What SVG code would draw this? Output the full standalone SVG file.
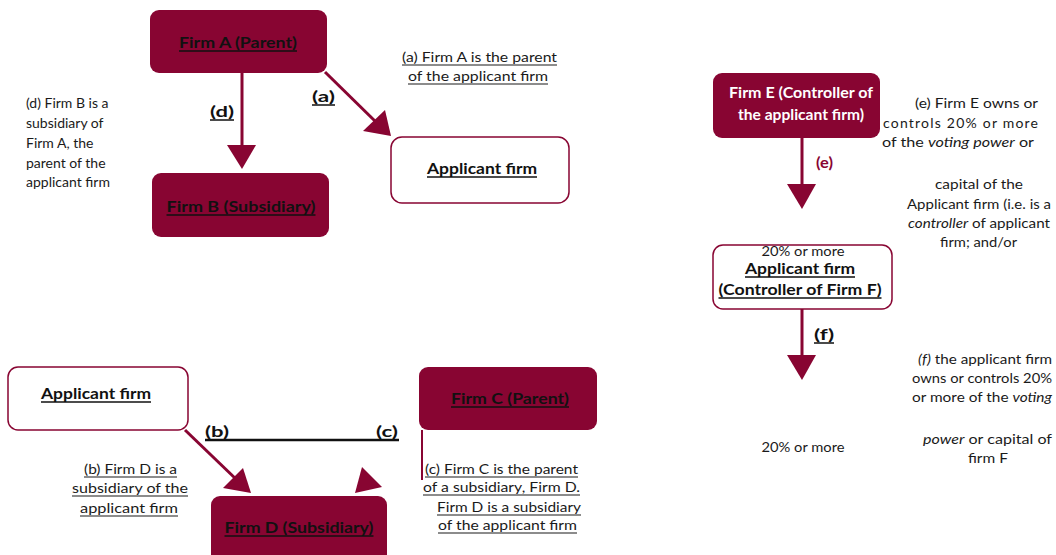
<svg xmlns="http://www.w3.org/2000/svg" width="1056" height="555" viewBox="0 0 1056 555">
<style>
.dark{fill:#880532;}
.light{fill:#fff;stroke:#880532;stroke-width:1.5;}
text{font-family:Lato,"Liberation Sans",sans-serif;fill:#111;}
.nl{font-size:16px;font-weight:bold;text-anchor:middle;}
.nw{font-size:14.5px;font-weight:bold;fill:#fff;text-anchor:middle;}
.t{font-size:14px;fill:#1a1a1a;}
.lab{font-size:15.5px;font-weight:bold;}
.ul{stroke:#111;stroke-width:1.6;fill:none;}
.ut{stroke:#1a1a1a;stroke-width:1.1;fill:none;}
.line{stroke:#880532;stroke-width:3;fill:none;}
.head{fill:#880532;}
</style>
<rect width="1056" height="555" fill="#fff"/>

<g id="connectors">
  <line class="line" x1="242" y1="73" x2="242" y2="150"/>
  <polygon class="head" points="227,145 256,145 242,169"/>
  <line class="line" x1="325" y1="72" x2="378" y2="124"/>
  <polygon class="head" points="363,131 385,110 391,136"/>
  <line class="line" x1="185" y1="430" x2="238" y2="481"/>
  <polygon class="head" points="223,488 243,468 251,493"/>
  <polygon class="head" points="362,467 382,487 355,493"/>
  <line stroke="#880532" stroke-width="2" x1="422" y1="430" x2="422" y2="480"/>
  <line class="line" x1="802" y1="138" x2="802" y2="186"/>
  <polygon class="head" points="787,184 816,184 802,209"/>
  <line class="line" x1="802" y1="309" x2="802" y2="358"/>
  <polygon class="head" points="787,355 816,355 802,380"/>
  <line stroke="#111" stroke-width="2.5" x1="205" y1="440" x2="399" y2="440"/>
  <text class="lab" x="210" y="117" textLength="24" lengthAdjust="spacingAndGlyphs">(d)</text>
  <text class="lab" x="312" y="102" textLength="23" lengthAdjust="spacingAndGlyphs">(a)</text>
  <text class="lab" x="205" y="437" textLength="24" lengthAdjust="spacingAndGlyphs">(b)</text>
  <text class="lab" x="376" y="437" textLength="22" lengthAdjust="spacingAndGlyphs">(c)</text>
  <text class="lab" x="816" y="168" textLength="17" lengthAdjust="spacingAndGlyphs" style="fill:#880532">(e)</text>
  <text class="lab" x="814" y="340" textLength="20" lengthAdjust="spacingAndGlyphs">(f)</text>
  <path class="ul" d="M210 120H234M312 105H335M814 343H834"/>
</g>

<g id="firmA">
  <rect class="dark" x="150" y="10" width="177" height="63" rx="9"/>
  <text class="nl" x="238" y="48" textLength="118" lengthAdjust="spacingAndGlyphs">Firm A (Parent)</text>
  <path class="ul" d="M179 51H297"/>
</g>
<g id="firmB">
  <rect class="dark" x="152" y="173" width="177" height="64" rx="9"/>
  <text class="nl" x="241" y="212" textLength="149" lengthAdjust="spacingAndGlyphs">Firm B (Subsidiary)</text>
  <path class="ul" d="M166.5 215H315.5"/>
</g>
<g id="applicantTop">
  <rect class="light" x="391" y="137" width="178" height="66" rx="11"/>
  <text class="nl" x="482" y="174" textLength="110" lengthAdjust="spacingAndGlyphs">Applicant firm</text>
  <path class="ul" d="M427 177H537"/>
</g>
<g id="noteA">
  <text class="t" x="402" y="62" textLength="155" lengthAdjust="spacingAndGlyphs">(a) Firm A is the parent</text>
  <text class="t" x="408" y="81" textLength="140" lengthAdjust="spacingAndGlyphs">of the applicant firm</text>
  <path class="ut" d="M402 65H557M408 84H548"/>
</g>
<g id="noteD">
  <text class="t" x="26" y="108">(d) Firm B is a</text>
  <text class="t" x="26" y="128">subsidiary of</text>
  <text class="t" x="26" y="148">Firm A, the</text>
  <text class="t" x="26" y="168">parent of the</text>
  <text class="t" x="26" y="187">applicant firm</text>
</g>

<g id="applicantBottom">
  <rect class="light" x="8" y="367" width="180" height="63" rx="10"/>
  <text class="nl" x="96" y="399" textLength="110" lengthAdjust="spacingAndGlyphs">Applicant firm</text>
  <path class="ul" d="M41 402H151"/>
</g>
<g id="firmC">
  <rect class="dark" x="419" y="367" width="178" height="63" rx="9"/>
  <text class="nl" x="510" y="404" textLength="118" lengthAdjust="spacingAndGlyphs">Firm C (Parent)</text>
  <path class="ul" d="M451 407H569"/>
</g>
<g id="firmD">
  <rect class="dark" x="211" y="496" width="176" height="70" rx="9"/>
  <text class="nl" x="299" y="533" textLength="149" lengthAdjust="spacingAndGlyphs">Firm D (Subsidiary)</text>
  <path class="ul" d="M224.5 536H373.5"/>
</g>
<g id="noteB">
  <text class="t" x="84" y="474" textLength="93" lengthAdjust="spacingAndGlyphs">(b) Firm D is a</text>
  <text class="t" x="72" y="493" textLength="116" lengthAdjust="spacingAndGlyphs">subsidiary of the</text>
  <text class="t" x="80" y="513" textLength="98" lengthAdjust="spacingAndGlyphs">applicant firm</text>
  <path class="ut" d="M84 477H177M72 496H188M80 516H178"/>
</g>
<g id="noteC">
  <text class="t" x="425" y="474" textLength="153" lengthAdjust="spacingAndGlyphs">(c) Firm C is the parent</text>
  <text class="t" x="423" y="492" textLength="157" lengthAdjust="spacingAndGlyphs">of a subsidiary, Firm D.</text>
  <text class="t" x="437" y="512" textLength="144" lengthAdjust="spacingAndGlyphs">Firm D is a subsidiary</text>
  <text class="t" x="438" y="530" textLength="139" lengthAdjust="spacingAndGlyphs">of the applicant firm</text>
  <path class="ut" d="M425 477H578M423 495H580M437 515H581M438 533H577"/>
</g>

<g id="firmE">
  <rect class="dark" x="713" y="73" width="167" height="65" rx="9"/>
  <text class="nw" x="801" y="98" textLength="144" lengthAdjust="spacingAndGlyphs">Firm E (Controller of</text>
  <text class="nw" x="801" y="120" textLength="126" lengthAdjust="spacingAndGlyphs">the applicant firm)</text>
</g>
<g id="applicantRight">
  <rect class="light" x="713" y="245" width="179" height="64" rx="10"/>
  <text class="t" x="803" y="256" text-anchor="middle" font-size="12" textLength="83" lengthAdjust="spacingAndGlyphs">20% or more</text>
  <text class="nl" x="800" y="274" font-size="15.5" textLength="110" lengthAdjust="spacingAndGlyphs">Applicant firm</text>
  <text class="nl" x="800" y="295" textLength="163" lengthAdjust="spacingAndGlyphs">(Controller of Firm F)</text>
  <path class="ul" d="M745 277H855M718.5 298H881.5"/>
</g>
<g id="noteE">
  <text class="t" x="915" y="108" textLength="123" lengthAdjust="spacingAndGlyphs">(e) Firm E owns or</text>
  <text class="t" x="883" y="128" textLength="155" lengthAdjust="spacing">controls 20% or more</text>
  <text class="t" x="882" y="147" textLength="152" lengthAdjust="spacingAndGlyphs">of the <tspan font-style="italic">voting power</tspan> or</text>
  <text class="t" x="935" y="189" textLength="88" lengthAdjust="spacingAndGlyphs">capital of the</text>
  <text class="t" x="907" y="209" textLength="144" lengthAdjust="spacingAndGlyphs">Applicant firm (i.e. is a</text>
  <text class="t" x="908" y="228" textLength="142" lengthAdjust="spacingAndGlyphs"><tspan font-style="italic">controller</tspan> of applicant</text>
  <text class="t" x="940" y="247" textLength="77" lengthAdjust="spacingAndGlyphs">firm; and/or</text>
</g>
<g id="noteF">
  <text class="t" x="918" y="364" textLength="134" lengthAdjust="spacingAndGlyphs"><tspan font-style="italic">(f)</tspan> the applicant firm</text>
  <text class="t" x="912" y="383" textLength="140" lengthAdjust="spacingAndGlyphs">owns or controls 20%</text>
  <text class="t" x="912" y="402" textLength="140" lengthAdjust="spacingAndGlyphs">or more of the <tspan font-style="italic">voting</tspan></text>
  <text class="t" x="923" y="444" textLength="129" lengthAdjust="spacingAndGlyphs"><tspan font-style="italic">power</tspan> or capital of</text>
  <text class="t" x="968" y="463" textLength="40" lengthAdjust="spacingAndGlyphs">firm F</text>
  <text class="t" x="803" y="452" text-anchor="middle" textLength="83" lengthAdjust="spacingAndGlyphs">20% or more</text>
</g>
</svg>
